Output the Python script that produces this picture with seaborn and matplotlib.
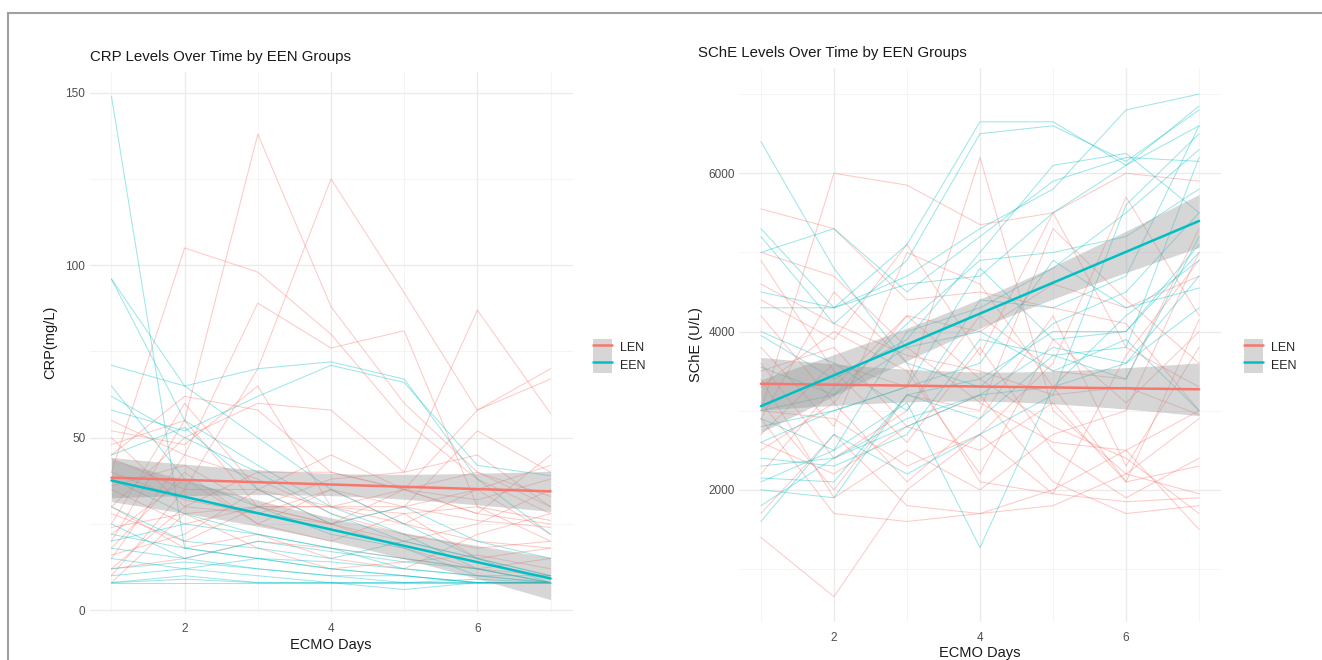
# ---- dependencies
import numpy as np
import pandas as pd
import matplotlib
matplotlib.use('Agg')
import matplotlib.pyplot as plt
from matplotlib.lines import Line2D
from matplotlib.patches import Patch
from matplotlib.ticker import MultipleLocator
import seaborn as sns

# ---- data (one row per patient, ECMO days 1..7)
DAYS = [1, 2, 3, 4, 5, 6, 7]
GROUPS = ['LEN', 'EEN']
COLORS = {'LEN': '#F8766D', 'EEN': '#00BFC4'}

CRP_LEN = [
	[20, 55, 138, 88, 60, 40, 30],
	[40, 105, 98, 80, 55, 38, 28],
	[15, 45, 89, 76, 81, 30, 20],
	[10, 35, 70, 125, 92, 58, 70],
	[30, 50, 60, 58, 40, 87, 57],
	[45, 62, 58, 40, 35, 58, 67],
	[52, 48, 65, 30, 30, 35, 22],
	[25, 60, 35, 45, 35, 28, 25],
	[12, 30, 40, 40, 35, 32, 38],
	[35, 25, 30, 38, 40, 45, 30],
	[18, 40, 25, 35, 30, 52, 40],
	[48, 55, 30, 30, 25, 20, 18],
	[8, 28, 30, 25, 35, 40, 33],
	[28, 20, 30, 30, 35, 28, 45],
	[22, 38, 25, 20, 28, 30, 26],
	[55, 45, 38, 28, 22, 18, 20],
	[40, 32, 28, 25, 20, 25, 35],
	[16, 22, 35, 30, 28, 15, 18],
	[30, 18, 22, 15, 12, 22, 28],
	[12, 15, 20, 18, 15, 12, 10],
	[24, 28, 18, 12, 14, 16, 12],
	[36, 42, 30, 25, 18, 12, 15],
	[44, 35, 35, 25, 30, 26, 24],
	[50, 30, 28, 35, 25, 35, 42],
]
CRP_EEN = [
	[149, 18, 15, 12, 10, 8, 8],
	[96, 65, 50, 35, 25, 15, 8],
	[96, 55, 42, 30, 22, 12, 8],
	[71, 65, 70, 72, 67, 38, 22],
	[58, 52, 62, 71, 66, 42, 39],
	[62, 50, 40, 28, 20, 15, 10],
	[65, 38, 30, 22, 18, 10, 8],
	[45, 53, 35, 25, 30, 20, 15],
	[38, 28, 22, 18, 12, 10, 8],
	[20, 25, 22, 18, 15, 12, 8],
	[30, 20, 18, 15, 20, 15, 10],
	[25, 15, 12, 10, 8, 8, 8],
	[15, 12, 15, 12, 10, 8, 8],
	[10, 12, 10, 8, 8, 8, 8],
	[8, 10, 8, 8, 6, 8, 8],
	[8, 8, 8, 8, 8, 8, 8],
	[12, 14, 12, 10, 10, 8, 8],
	[22, 18, 15, 14, 12, 10, 10],
	[18, 15, 20, 17, 14, 12, 8],
	[8, 9, 8, 8, 8, 9, 8],
]
SCHE_LEN = [
	[3000, 6000, 5850, 5350, 5500, 3800, 3300],
	[5550, 5300, 4400, 4500, 4300, 4100, 3000],
	[5000, 4700, 3800, 3100, 2600, 2500, 3000],
	[2700, 3600, 3300, 6200, 3000, 2200, 1950],
	[1400, 650, 2000, 2700, 3600, 5700, 4200],
	[4400, 3900, 5100, 3700, 5500, 6000, 5900],
	[3800, 2800, 5000, 4600, 3300, 2100, 2300],
	[2500, 3100, 4200, 4000, 4600, 4300, 4700],
	[3000, 2900, 2300, 2700, 1950, 3700, 4900],
	[3300, 4000, 3500, 2200, 3900, 3100, 4000],
	[4900, 3500, 2600, 3800, 2500, 1900, 2400],
	[1700, 2700, 1800, 1700, 2000, 2500, 1500],
	[2200, 3300, 4200, 3400, 2800, 2400, 1700],
	[3600, 2400, 3000, 4200, 3500, 3400, 5300],
	[2900, 4500, 3600, 2100, 1950, 1850, 1900],
	[2900, 1700, 1600, 1700, 1800, 2200, 2900],
	[4200, 3100, 2100, 2900, 4200, 2300, 3800],
	[2600, 2200, 2800, 3200, 2100, 1700, 1800],
	[3100, 2000, 3200, 3000, 5300, 4400, 3600],
	[4600, 4100, 3700, 3500, 3200, 3300, 2950],
	[3400, 1900, 2500, 2000, 2700, 3000, 5000],
	[3500, 3800, 2800, 2500, 3100, 2100, 4150],
]
SCHE_EEN = [
	[6400, 4800, 3600, 3300, 4100, 4500, 5500],
	[5300, 4300, 5100, 6650, 6650, 6100, 6600],
	[5200, 4100, 4900, 6500, 6600, 6150, 6800],
	[5000, 5300, 4500, 5200, 5900, 6200, 6150],
	[4500, 4300, 4700, 5300, 5800, 6800, 7000],
	[4300, 4300, 4600, 4700, 5500, 6100, 6850],
	[4000, 3600, 3000, 4400, 4300, 4700, 6600],
	[3950, 3400, 3900, 5000, 6100, 6250, 5500],
	[3550, 3200, 4100, 4900, 5000, 5200, 5800],
	[2900, 2500, 4000, 4300, 4800, 5500, 6300],
	[2800, 3000, 3300, 3600, 4900, 4300, 4550],
	[2400, 2300, 2700, 3900, 3700, 3400, 5200],
	[2300, 2400, 2800, 3200, 3300, 3600, 4700],
	[2150, 2100, 3200, 3400, 4000, 4000, 5100],
	[1800, 2400, 2900, 3200, 3800, 3600, 4300],
	[1600, 2700, 2200, 2700, 3200, 5600, 6500],
	[2000, 1900, 3200, 2900, 3700, 3800, 6200],
	[2600, 3000, 3300, 4800, 3900, 4000, 5000],
	[2100, 2500, 3100, 1270, 3300, 4200, 4900],
	[3000, 3200, 3800, 4000, 3500, 3900, 3000],
]


# ---- support methods
def to_long(len_rows, een_rows, name):
	"""Patient rows -> long frame with pid / group / day / value."""
	recs = []
	for grp, rows in (('LEN', len_rows), ('EEN', een_rows)):
		for i, row in enumerate(rows):
			for d, v in zip(DAYS, row):
				recs.append((f'{grp}{i:02d}', grp, d, v))
	return pd.DataFrame(recs, columns=['pid', 'group', 'day', name])


def ols_band(x, y, grid, t=1.97):
	"""Linear fit with 95% confidence band (like geom_smooth(method='lm'))."""
	X = np.column_stack([np.ones_like(x), x])
	beta = np.linalg.lstsq(X, y, rcond=None)[0]
	resid = y - X @ beta
	s2 = resid @ resid / (len(x) - 2)
	xtx_inv = np.linalg.inv(X.T @ X)
	G = np.column_stack([np.ones_like(grid), grid])
	fit = G @ beta
	se = np.sqrt(s2 * np.einsum('ij,jk,ik->i', G, xtx_inv, G))
	return fit, fit - t * se, fit + t * se


def draw_panel(ax, df, col, ylim, ymajor):
	sns.lineplot(data=df, x='day', y=col, hue='group', units='pid', estimator=None,
	             palette=COLORS, hue_order=GROUPS, alpha=0.38, linewidth=0.75,
	             legend=False, ax=ax)
	grid = np.linspace(1, 7, 80)
	for grp in GROUPS:
		sub = df[df['group'] == grp]
		x = sub['day'].to_numpy(float)
		y = sub[col].to_numpy(float)
		fit, lo, hi = ols_band(x, y, grid)
		ax.fill_between(grid, lo, hi, color='#999999', alpha=0.4, linewidth=0, zorder=3)
		sns.regplot(x=x, y=y, scatter=False, ci=None, color=COLORS[grp], ax=ax,
		            line_kws={'linewidth': 1.8, 'zorder': 4})

	ax.set_xlim(0.7, 7.3)
	ax.set_ylim(*ylim)
	ax.xaxis.set_major_locator(MultipleLocator(2))
	ax.xaxis.set_minor_locator(MultipleLocator(1))
	ax.yaxis.set_major_locator(MultipleLocator(ymajor))
	ax.yaxis.set_minor_locator(MultipleLocator(ymajor / 2))
	ax.grid(which='major', color='#EBEBEB', linewidth=1.0)
	ax.grid(which='minor', color='#F2F2F2', linewidth=0.6)
	ax.set_axisbelow(True)
	for s in ax.spines.values():
		s.set_visible(False)
	ax.tick_params(which='both', length=0, labelsize=8.5, colors='#4D4D4D')
	ax.tick_params(axis='x', pad=7)
	ax.tick_params(axis='y', pad=3)
	ax.set_xlabel('ECMO Days', fontsize=10.5, color='#1A1A1A', labelpad=2)


def add_legend(fig, x_px, y_px):
	handles = [(Patch(facecolor='#D6D6D6', edgecolor='none'),
	            Line2D([], [], color=COLORS[g], linewidth=1.8)) for g in GROUPS]
	fig.legend(handles=handles, labels=GROUPS, loc='center left',
	           bbox_to_anchor=(x_px / 1322, 1 - y_px / 660), frameon=False,
	           fontsize=9, handlelength=1.55, handleheight=1.75, labelspacing=0,
	           handletextpad=0.6, borderpad=0, borderaxespad=0)


def main():
	sns.set_theme(style='white')
	plt.rcParams['font.family'] = ['Liberation Sans', 'DejaVu Sans']

	crp = to_long(CRP_LEN, CRP_EEN, 'crp')
	sche = to_long(SCHE_LEN, SCHE_EEN, 'sche')

	fig = plt.figure(figsize=(13.22, 6.6), dpi=100)
	ax1 = fig.add_axes([89.5 / 1322, 1 - 613 / 660, 483 / 1322, 541 / 660])
	ax2 = fig.add_axes([739 / 1322, 1 - 622 / 660, 482 / 1322, 554 / 660])

	draw_panel(ax1, crp, 'crp', (-0.8, 156), 50)
	draw_panel(ax2, sche, 'sche', (330, 7330), 2000)
	ax1.set_ylabel('CRP(mg/L)', fontsize=10.5, color='#1A1A1A', labelpad=6)
	ax2.set_ylabel('SChE (U/L)', fontsize=10.5, color='#1A1A1A')

	fig.text(90 / 1322, 1 - 57 / 660, 'CRP Levels Over Time by EEN Groups',
	         ha='left', va='center', fontsize=10.8, color='#1A1A1A')
	fig.text(698 / 1322, 1 - 53 / 660, 'SChE Levels Over Time by EEN Groups',
	         ha='left', va='center', fontsize=10.8, color='#1A1A1A')

	add_legend(fig, 593, 356)
	add_legend(fig, 1244, 356)

	# outer frame of the pasted image
	fig.add_artist(Line2D([8 / 1322, 1], [1 - 13 / 660] * 2, transform=fig.transFigure,
	                      color='#A0A0A0', linewidth=1.5))
	fig.add_artist(Line2D([8 / 1322] * 2, [0, 1 - 13 / 660], transform=fig.transFigure,
	                      color='#A0A0A0', linewidth=1.5))

	fig.savefig('out.png', dpi=100, facecolor='white')
	plt.close(fig)


if __name__ == '__main__':
	main()
